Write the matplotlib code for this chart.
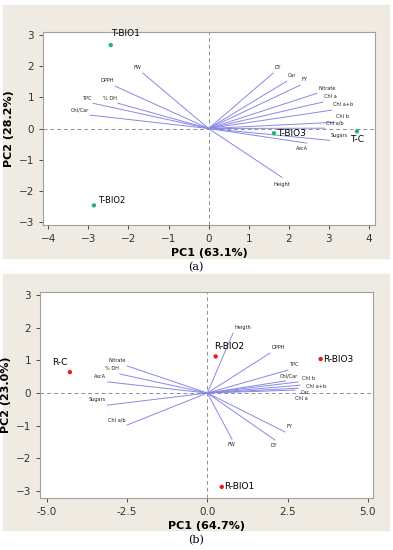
import matplotlib
matplotlib.use("Agg")
import matplotlib.pyplot as plt
from matplotlib.patches import Rectangle

# panel (a) - PCA biplot, T samples
a_samples = ["T-BIO1", "T-BIO2", "T-BIO3", "T-C"]
a_pc1 = [-2.44, -2.86, 1.63, 3.70]
a_pc2 = [2.68, -2.47, -0.15, -0.09]

a_vars = ["FW", "DPPH", "TPC", "% DH", "Chl/Car", "DY", "Car", "FY", "Nitrate",
          "Chl a", "Chl a+b", "Chl b", "Chl a/b", "Sugars", "AscA", "Height"]
a_load1 = [-1.64, -2.33, -2.88, -2.26, -2.96, 1.61, 1.95, 2.28, 2.70,
           2.85, 3.07, 3.15, 2.90, 3.02, 2.45, 1.83]
a_load2 = [1.78, 1.36, 0.81, 0.81, 0.43, 1.78, 1.52, 1.39, 1.13,
           0.85, 0.59, 0.20, 0.01, -0.38, -0.47, -1.57]

# panel (b) - PCA biplot, R samples
b_samples = ["R-C", "R-BIO2", "R-BIO3", "R-BIO1"]
b_pc1 = [-4.28, 0.26, 3.53, 0.45]
b_pc2 = [0.64, 1.12, 1.04, -2.87]

b_vars = ["Heigth", "DPPH", "TPC", "Chl/Car", "Chl b", "Chl a+b", "Car", "Chl a",
          "Nitrate", "% DH", "AscA", "Sugars", "Chl a/b", "FW", "DY", "FY"]
b_load1 = [0.80, 1.95, 2.51, 2.43, 2.83, 2.89, 2.83, 2.73,
           -2.50, -2.72, -3.10, -3.12, -2.50, 0.77, 2.11, 2.42]
b_load2 = [1.83, 1.22, 0.70, 0.37, 0.34, 0.24, 0.15, 0.09,
           0.83, 0.58, 0.34, -0.37, -0.98, -1.41, -1.44, -1.19]

# label nudges (points) for crowded vector labels
nudge = {
    ("b", "Chl/Car"): (-4, 2),
    ("b", "Chl b"): (3, 1),
    ("b", "Chl a+b"): (4, -2.5),
    ("b", "Car"): (2, -5),
    ("b", "Chl a"): (0, -8),
    ("b", "FW"): (-3, -6),
    ("b", "DY"): (-3, -6),
    ("a", "AscA"): (-8, -6),
    ("a", "Height"): (-6, -7),
}

fig = plt.figure(figsize=(3.93, 5.5), dpi=100)
fig.patch.set_facecolor("white")
beige = "#efebe2"
fig.patches.append(Rectangle((3 / 393, 1 - 258 / 550), 386 / 393, 253 / 550,
                             transform=fig.transFigure, color=beige, zorder=-10))
fig.patches.append(Rectangle((3 / 393, 1 - 530 / 550), 386 / 393, 256 / 550,
                             transform=fig.transFigure, color=beige, zorder=-10))

vec_color = "#8888e6"


def biplot(ax, key, names, l1, l2, s1, s2, dot, xlab, ylab):
    ax.set_facecolor("white")
    ax.axhline(0, color="#909090", lw=0.7, ls=(0, (4, 3)), zorder=1)
    ax.axvline(0, color="#909090", lw=0.7, ls=(0, (4, 3)), zorder=1)
    for n, x, y in zip(names, l1, l2):
        ax.plot([0, x], [0, y], color=vec_color, lw=0.7, zorder=2)
        dx, dy = nudge.get((key, n), (-1 if x < 0 else 1, 2))
        ax.annotate(n, (x, y), xytext=(dx, dy), textcoords="offset points",
                    ha="right" if x < 0 else "left", va="bottom",
                    fontsize=3.6, color="#222222")
    ax.scatter(s1, s2, s=10, color=dot, zorder=3, edgecolors="none")
    for spine in ax.spines.values():
        spine.set_color("#a0a0a0")
        spine.set_linewidth(0.8)
    ax.tick_params(labelsize=7.5, colors="#333333", length=3, width=0.6)
    ax.set_xlabel(xlab, fontsize=8, fontweight="bold", labelpad=3)
    ax.set_ylabel(ylab, fontsize=8, fontweight="bold", labelpad=3)


ax1 = fig.add_axes([43 / 393, 1 - 225 / 550, 332 / 393, 193 / 550])
biplot(ax1, "a", a_vars, a_load1, a_load2, a_pc1, a_pc2, "#22b86a",
       "PC1 (63.1%)", "PC2 (28.2%)")
ax1.set_xlim(-4.13, 4.15)
ax1.set_ylim(-3.1, 3.1)
ax1.set_xticks(range(-4, 5))
ax1.set_yticks(range(-3, 4))
ax1.annotate("T-BIO1", (a_pc1[0], a_pc2[0]), xytext=(0, 5), textcoords="offset points",
             ha="left", va="bottom", fontsize=6.5)
ax1.annotate("T-BIO2", (a_pc1[1], a_pc2[1]), xytext=(3, 0), textcoords="offset points",
             ha="left", va="bottom", fontsize=6)
ax1.annotate("T-BIO3", (a_pc1[2], a_pc2[2]), xytext=(2, 0), textcoords="offset points",
             ha="left", va="center", fontsize=6.5)
ax1.annotate("T-C", (a_pc1[3], a_pc2[3]), xytext=(0, -3), textcoords="offset points",
             ha="center", va="top", fontsize=6.5)

ax2 = fig.add_axes([40 / 393, 1 - 498 / 550, 333 / 393, 206 / 550])
biplot(ax2, "b", b_vars, b_load1, b_load2, b_pc1, b_pc2, "#e0201c",
       "PC1 (64.7%)", "PC2 (23.0%)")
ax2.set_xlim(-5.21, 5.16)
ax2.set_ylim(-3.21, 3.09)
ax2.set_xticks([-5, -2.5, 0, 2.5, 5])
ax2.set_xticklabels(["-5.0", "-2.5", "0.0", "2.5", "5.0"])
ax2.set_yticks(range(-3, 4))
ax2.annotate("R-C", (b_pc1[0], b_pc2[0]), xytext=(-2, 4), textcoords="offset points",
             ha="right", va="bottom", fontsize=6.5)
ax2.annotate("R-BIO2", (b_pc1[1], b_pc2[1]), xytext=(-1, 4), textcoords="offset points",
             ha="left", va="bottom", fontsize=6.5)
ax2.annotate("R-BIO3", (b_pc1[2], b_pc2[2]), xytext=(2, 0), textcoords="offset points",
             ha="left", va="center", fontsize=6.5)
ax2.annotate("R-BIO1", (b_pc1[3], b_pc2[3]), xytext=(2, 0), textcoords="offset points",
             ha="left", va="center", fontsize=6.5)

fig.text(196 / 393, 1 - 267 / 550, "(a)", ha="center", va="center",
         fontsize=8, family="DejaVu Serif")
fig.text(196 / 393, 1 - 540 / 550, "(b)", ha="center", va="center",
         fontsize=8, family="DejaVu Serif")

fig.savefig("out.png", dpi=100)
